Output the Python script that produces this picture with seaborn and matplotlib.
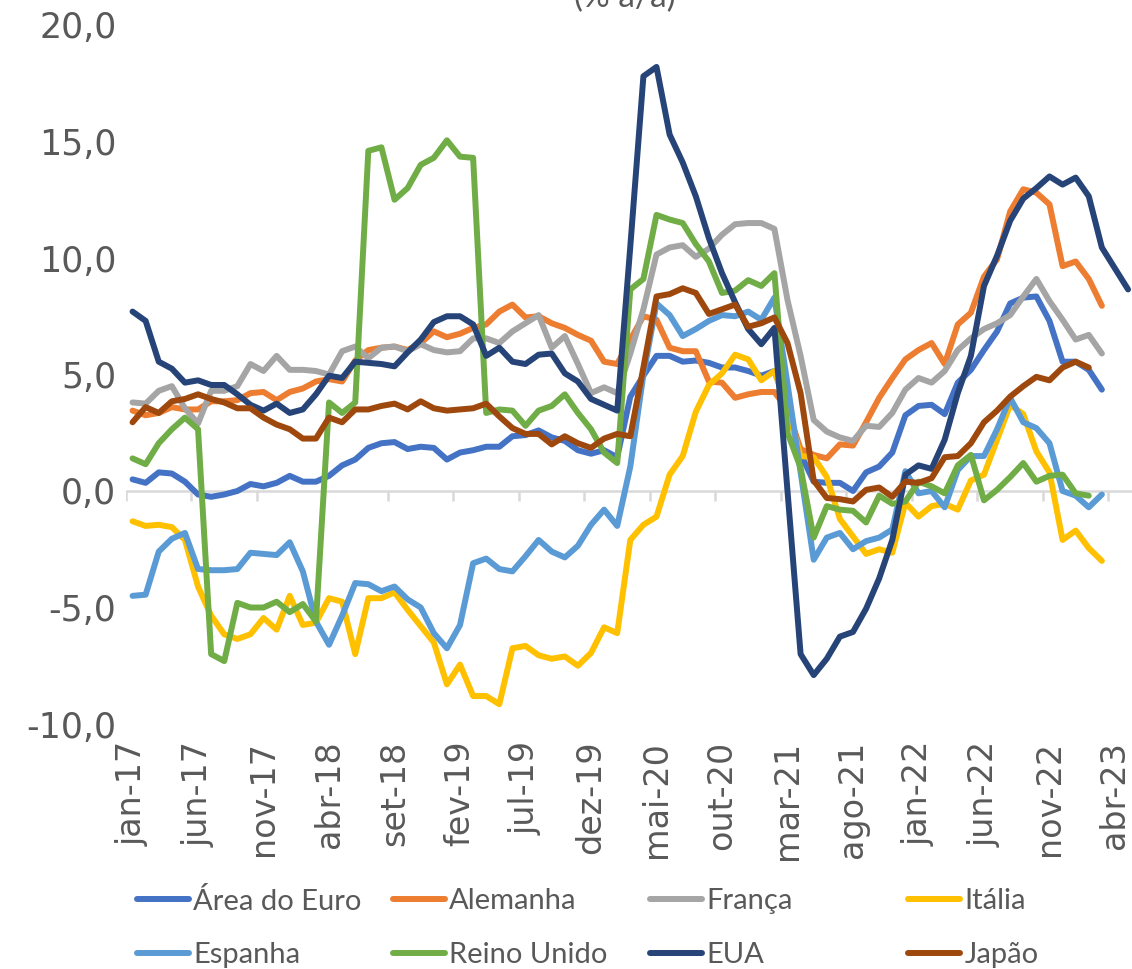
import matplotlib
matplotlib.use("Agg")
import matplotlib.pyplot as plt
import numpy as np
import pandas as pd
import seaborn as sns
from matplotlib.lines import Line2D
from matplotlib.ticker import FuncFormatter


# variação % a/a, mensal a partir de jan-17
area_euro = [0.5, 0.35, 0.8, 0.75, 0.4, -0.15, -0.25, -0.15, 0.0, 0.3, 0.2, 0.35, 0.65, 0.4, 0.4, 0.65,
             1.1, 1.35, 1.85, 2.05, 2.1, 1.8, 1.9, 1.85, 1.35, 1.65, 1.75, 1.9, 1.9, 2.35, 2.4, 2.6,
             2.3, 2.15, 1.75, 1.6, 1.75, 1.45, 4.05, 4.95, 5.8, 5.8, 5.55, 5.6, 5.5, 5.3, 5.3, 5.15,
             4.95, 5.15, 3.6, 1.6, 0.4, 0.35, 0.35, 0.0, 0.8, 1.05, 1.65, 3.25, 3.65, 3.7, 3.3, 4.65,
             5.2, 6.05, 6.85, 8.05, 8.3, 8.35, 7.3, 5.55, 5.55, 5.2, 4.35]
alemanha = [3.45, 3.25, 3.35, 3.6, 3.5, 3.5, 3.85, 3.85, 3.9, 4.2, 4.25, 3.9, 4.25, 4.4, 4.7, 4.8,
            4.7, 5.6, 6.05, 6.15, 6.2, 6.05, 6.35, 6.85, 6.6, 6.75, 7.0, 7.15, 7.7, 8.0, 7.45, 7.5,
            7.2, 7.0, 6.7, 6.45, 5.55, 5.45, 6.5, 7.5, 7.35, 6.15, 6.0, 6.0, 4.7, 4.65, 4.0, 4.15,
            4.25, 4.25, 3.5, 1.8, 1.55, 1.4, 2.0, 1.95, 2.95, 4.0, 4.85, 5.65, 6.05, 6.35, 5.45, 7.15,
            7.65, 9.2, 9.95, 12.0, 12.95, 12.8, 12.3, 9.65, 9.85, 9.1, 7.95]
franca = [3.8, 3.75, 4.3, 4.5, 3.55, 2.9, 4.3, 4.3, 4.5, 5.45, 5.15, 5.8, 5.2, 5.2, 5.15, 5.0,
          6.0, 6.2, 5.7, 6.15, 6.2, 6.0, 6.3, 6.05, 5.95, 6.0, 6.55, 6.55, 6.35, 6.85, 7.2, 7.55,
          6.15, 6.65, 5.45, 4.2, 4.45, 4.2, 5.9, 7.8, 10.15, 10.45, 10.55, 10.05, 10.4, 11.0, 11.45, 11.5,
          11.5, 11.25, 8.2, 5.8, 3.05, 2.55, 2.3, 2.15, 2.8, 2.75, 3.35, 4.35, 4.85, 4.65, 5.15, 6.05,
          6.55, 6.95, 7.2, 7.55, 8.35, 9.1, 8.15, 7.35, 6.5, 6.7, 5.9]
italia = [-1.3, -1.5, -1.45, -1.55, -2.1, -4.1, -5.35, -6.15, -6.35, -6.15, -5.45, -5.95, -4.5, -5.75, -5.65, -4.6,
          -4.75, -7.0, -4.6, -4.6, -4.35, -5.1, -5.8, -6.5, -8.3, -7.45, -8.8, -8.8, -9.15, -6.75, -6.65, -7.05,
          -7.2, -7.1, -7.5, -6.95, -5.85, -6.1, -2.1, -1.45, -1.1, 0.7, 1.5, 3.4, 4.55, 5.05, 5.85, 5.65,
          4.75, 5.15, 3.5, 1.5, 1.45, 0.6, -1.2, -1.95, -2.7, -2.5, -2.65, -0.5, -1.1, -0.65, -0.55, -0.8,
          0.45, 0.7, 2.2, 3.7, 3.3, 1.7, 0.8, -2.1, -1.7, -2.45, -3.0]
espanha = [-4.5, -4.45, -2.6, -2.05, -1.8, -3.35, -3.4, -3.4, -3.35, -2.65, -2.7, -2.75, -2.2, -3.45, -5.6, -6.6,
           -5.35, -3.95, -4.0, -4.3, -4.1, -4.65, -5.0, -6.1, -6.75, -5.75, -3.1, -2.9, -3.35, -3.45, -2.8, -2.1,
           -2.6, -2.85, -2.35, -1.45, -0.8, -1.5, 1.05, 5.0, 8.05, 7.55, 6.65, 6.95, 7.3, 7.55, 7.5, 7.7,
           7.35, 8.3, 4.6, 0.8, -2.95, -2.0, -1.8, -2.5, -2.15, -2.0, -1.65, 0.85, -0.1, 0.0, -0.7, 0.9,
           1.5, 1.5, 2.65, 4.0, 2.95, 2.7, 2.05, 0.0, -0.2, -0.7, -0.15]
reino_unido = [1.4, 1.15, 2.05, 2.65, 3.15, 2.65, -7.0, -7.3, -4.8, -5.0, -5.0, -4.75, -5.2, -4.85, -5.6, 3.8,
               3.35, 3.8, 14.6, 14.75, 12.5, 13.0, 14.0, 14.3, 15.05, 14.35, 14.3, 3.35, 3.5, 3.45, 2.8, 3.45,
               3.65, 4.15, 3.35, 2.65, 1.65, 1.2, 8.65, 9.1, 11.85, 11.65, 11.5, 10.6, 9.85, 8.5, 8.6, 9.05,
               8.8, 9.35, 2.5, 1.0, -2.0, -0.65, -0.8, -0.85, -1.35, -0.2, -0.55, -0.45, 0.4, 0.2, -0.1, 1.1,
               1.55, -0.4, 0.05, 0.6, 1.2, 0.4, 0.65, 0.7, -0.1, -0.2]
eua = [7.7, 7.3, 5.55, 5.25, 4.65, 4.75, 4.55, 4.55, 4.15, 3.7, 3.45, 3.75, 3.35, 3.5, 4.15, 4.95,
       4.85, 5.55, 5.5, 5.45, 5.35, 5.95, 6.5, 7.25, 7.5, 7.5, 7.15, 5.8, 6.15, 5.55, 5.45, 5.85,
       5.9, 5.05, 4.7, 3.95, 3.7, 3.45, 10.5, 17.8, 18.2, 15.3, 14.1, 12.65, 10.85, 9.35, 8.1, 6.95,
       6.3, 7.0, 0.0, -7.0, -7.9, -7.2, -6.25, -6.05, -5.05, -3.75, -2.1, 0.7, 1.1, 0.95, 2.2, 4.2,
       5.8, 8.8, 10.1, 11.6, 12.55, 13.0, 13.5, 13.15, 13.45, 12.65, 10.45, 9.55, 8.65]
japao = [2.95, 3.6, 3.35, 3.85, 3.95, 4.15, 3.95, 3.8, 3.55, 3.55, 3.15, 2.85, 2.65, 2.25, 2.25, 3.15,
         2.95, 3.5, 3.5, 3.65, 3.75, 3.5, 3.85, 3.55, 3.45, 3.5, 3.55, 3.75, 3.2, 2.7, 2.45, 2.45,
         2.0, 2.35, 2.05, 1.85, 2.25, 2.45, 2.35, 5.3, 8.35, 8.45, 8.7, 8.5, 7.6, 7.8, 8.0, 7.05,
         7.2, 7.45, 6.35, 4.2, 0.45, -0.3, -0.35, -0.45, 0.05, 0.15, -0.25, 0.4, 0.35, 0.55, 1.45, 1.5,
         2.05, 2.95, 3.45, 4.05, 4.5, 4.9, 4.75, 5.3, 5.55, 5.3]

nomes = ["Área do Euro", "Alemanha", "França", "Itália", "Espanha", "Reino Unido", "EUA", "Japão"]
cores = ["#4472C4", "#ED7D31", "#A5A5A5", "#FFC000", "#5B9BD5", "#70AD47", "#264478", "#9E480E"]
rotulos = ["jan-17", "jun-17", "nov-17", "abr-18", "set-18", "fev-19", "jul-19", "dez-19",
           "mai-20", "out-20", "mar-21", "ago-21", "jan-22", "jun-22", "nov-22", "abr-23"]

dados = [area_euro, alemanha, franca, italia, espanha, reino_unido, eua, japao]
df = pd.concat(
    [pd.DataFrame({"serie": n, "mes": np.arange(len(v)), "valor": v}) for n, v in zip(nomes, dados)],
    ignore_index=True,
)

sns.set_theme(style="white")
plt.rcParams["font.family"] = ["Lato", "DejaVu Sans"]
cinza = "#595959"
W, H = 1132, 969
LW = 4.3

fig = plt.figure(figsize=(W / 100, H / 100), dpi=100)
ax = fig.add_axes([126 / W, 1 - 724 / H, (W - 126) / W, (724 - 25) / H])

sns.lineplot(data=df, x="mes", y="valor", hue="serie", hue_order=nomes, palette=cores,
             linewidth=LW, errorbar=None, legend=False, ax=ax)
for ln in ax.lines:
    ln.set_solid_joinstyle("round")
    ln.set_solid_capstyle("round")

# eixo horizontal no zero, com marcas a cada 5 meses
n_meses = len(eua)
ax.axhline(0, color="#D9D9D9", lw=1.8, zorder=0)
ax.vlines(np.arange(-0.5, n_meses, 5), -0.45, 0, color="#D9D9D9", lw=1.8, zorder=0)

ax.set_xlim(-0.5, n_meses - 0.7)
ax.set_ylim(-10, 20)
ax.set_yticks(np.arange(-10, 20.1, 5))
ax.yaxis.set_major_formatter(FuncFormatter(lambda v, p: f"{v:.1f}".replace(".", ",")))
ax.set_xticks(np.arange(0, len(rotulos) * 5, 5))
ax.set_xticklabels(rotulos, rotation=90, fontfamily="DejaVu Sans")
for t in ax.get_yticklabels():
    t.set_fontfamily("DejaVu Sans")
ax.tick_params(axis="x", length=0, pad=12, labelsize=24, colors=cinza)
ax.tick_params(axis="y", length=0, pad=7, labelsize=25, colors=cinza)
ax.set_xlabel("")
ax.set_ylabel("")
for s in ax.spines.values():
    s.set_visible(False)

fig.text(625 / W, 1 - 7 / H, "(% a/a)", ha="center", va="baseline", fontsize=24, color=cinza)

# legenda em 4 colunas de largura fixa
col_x = [137, 393, 650, 908]
for c in range(4):
    hs = [Line2D([], [], color=cores[c + 4 * r], lw=LW, solid_capstyle="round") for r in range(2)]
    fig.legend(hs, [nomes[c], nomes[c + 4]], loc="center left",
               bbox_to_anchor=(col_x[c] / W, 1 - 928 / H), frameon=False,
               fontsize=21, labelcolor=cinza, handlelength=1.78, handletextpad=0.15,
               labelspacing=0.95, borderpad=0, borderaxespad=0)

fig.savefig("out.png", dpi=100)
